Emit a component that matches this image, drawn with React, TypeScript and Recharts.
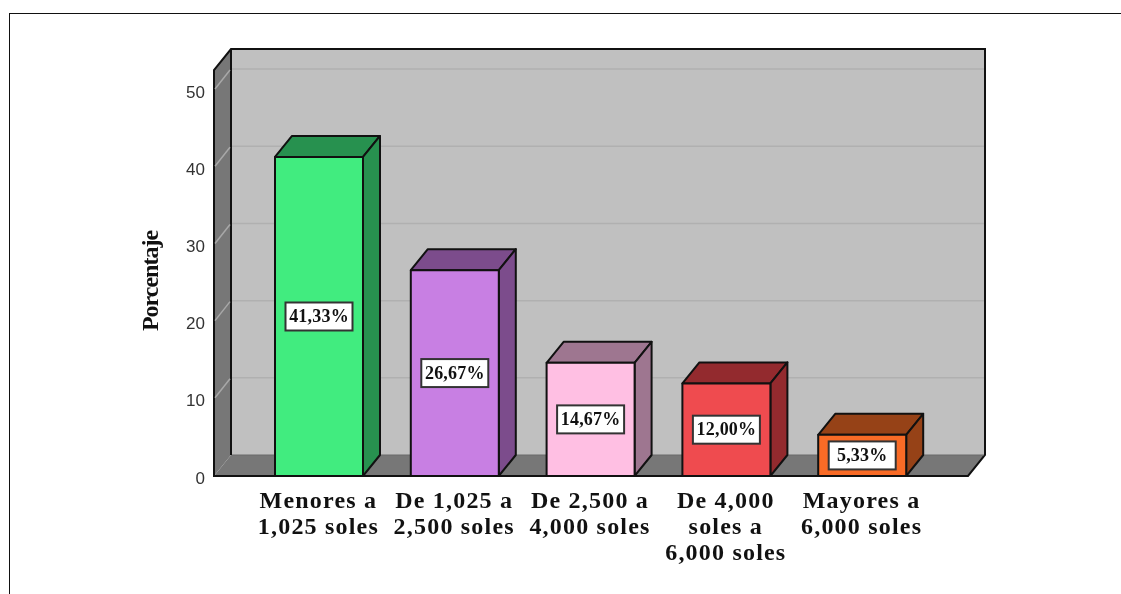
import { BarChart, Bar, XAxis, YAxis, LabelList, ReferenceArea, ReferenceLine } from 'recharts';

const categories = [
  'Menores a\n1,025 soles',
  'De 1,025 a\n2,500 soles',
  'De 2,500 a\n4,000 soles',
  'De 4,000\nsoles a\n6,000 soles',
  'Mayores a\n6,000 soles',
];
const percentages = [41.33, 26.67, 14.67, 12.0, 5.33];
const frontColors = ['#41EC7F', '#C87FE3', '#FFBFE3', '#EF4B4F', '#F96B26'];
const sideColors = ['#27914F', '#7C4C8C', '#9E7690', '#932A2E', '#964217'];
const yTicks = [0, 10, 20, 30, 40, 50];
const gridTicks = [10, 20, 30, 40, 50];

const chartData = categories.map((name, i) => ({ name, value: percentages[i] }));

const DX = 17;
const DY = 21;
const PAD_LEFT = 37;
const PAD_RIGHT = 38;
const SERIF = '"Liberation Serif", serif';

// caja 3D de cada barra
function Box3D(props: any) {
  const { x, y, width, height, index } = props;
  const r = x + width;
  const b = y + height;
  return (
    <g stroke="#111" strokeWidth={2} strokeLinejoin="round">
      <polygon
        points={`${x},${y} ${x + DX},${y - DY} ${r + DX},${y - DY} ${r},${y}`}
        fill={sideColors[index]}
      />
      <polygon
        points={`${r},${y} ${r + DX},${y - DY} ${r + DX},${b - DY} ${r},${b}`}
        fill={sideColors[index]}
      />
      <rect x={x} y={y} width={width} height={height} fill={frontColors[index]} />
    </g>
  );
}

// paredes y piso (el area llega sin el padding del eje X)
function Walls(props: any) {
  const { y, height } = props;
  const x = props.x - PAD_LEFT;
  const r = props.x + props.width + PAD_RIGHT;
  const width = r - x;
  const b = y + height;
  return (
    <g>
      <rect x={x + DX} y={y - DY} width={width} height={height} fill="#C0C0C0" />
      <polygon
        points={`${x},${y} ${x + DX},${y - DY} ${x + DX},${b - DY} ${x},${b}`}
        fill="#777777"
      />
      <polygon
        points={`${x},${b} ${x + DX},${b - DY} ${r + DX},${b - DY} ${r},${b}`}
        fill="#777777"
      />
      <path
        d={`M${x},${b} L${x},${y} L${x + DX},${y - DY} L${r + DX},${y - DY} L${r + DX},${b - DY} L${r},${b} Z M${x + DX},${y - DY} L${x + DX},${b - DY}`}
        fill="none"
        stroke="#111"
        strokeWidth={2}
      />
      <line x1={x + DX + 1} y1={b - DY} x2={r + DX - 1} y2={b - DY} stroke="#6A6A6A" strokeWidth={1} />
    </g>
  );
}

function GridLine3D(props: any) {
  const { x1, y1, x2, y2 } = props;
  const left = Math.min(x1, x2);
  const right = Math.max(x1, x2);
  return (
    <g fill="none" strokeWidth={1.5}>
      <line x1={left + 1} y1={y1 - 1} x2={left + DX - 1} y2={y2 - DY + 1} stroke="#A8A8A8" />
      <line x1={left + DX + 1} y1={y1 - DY} x2={right + DX - 1} y2={y2 - DY} stroke="#B0B0B0" />
    </g>
  );
}

function ValueBadge(props: any) {
  const { x, y, width, height, value } = props;
  const cx = x + width / 2;
  const cy = y + height / 2;
  const w = 67;
  const h = 28;
  return (
    <g>
      <rect x={cx - w / 2} y={cy - h / 2} width={w} height={h} fill="#FFFFFF" stroke="#333" strokeWidth={2} />
      <text
        x={cx}
        y={cy + 5.8}
        textAnchor="middle"
        fontFamily={SERIF}
        fontWeight="bold"
        fontSize={18}
        letterSpacing={0.2}
        fill="#111"
      >
        {Number(value).toFixed(2).replace('.', ',')}%
      </text>
    </g>
  );
}

function CategoryTick(props: any) {
  const { x, y, payload } = props;
  const lines = String(payload.value).split('\n');
  return (
    <text
      x={x - 0.5}
      y={y}
      textAnchor="middle"
      fontFamily={SERIF}
      fontWeight="bold"
      fontSize={24}
      letterSpacing={1.2}
      fill="#111"
    >
      {lines.map((line, i) => (
        <tspan key={line} x={x - 0.5} dy={i === 0 ? 23.5 : 26}>
          {line}
        </tspan>
      ))}
    </text>
  );
}

function ValueTick(props: any) {
  const { x, y, payload } = props;
  return (
    <text
      x={x}
      y={y + 7.5}
      textAnchor="end"
      fontFamily='"Liberation Sans", sans-serif'
      fontSize={17}
      fill="#333"
    >
      {payload.value}
    </text>
  );
}

export default function App() {
  return (
    <div
      style={{
        position: 'absolute',
        left: 0,
        top: 0,
        width: 1121,
        height: 594,
        background: '#fff',
        overflow: 'hidden',
        filter: 'blur(0.45px)',
      }}
    >
      <div
        style={{
          position: 'absolute',
          left: 9,
          top: 13,
          width: 1112,
          height: 581,
          borderTop: '1px solid #111',
          borderLeft: '1px solid #111',
        }}
      />
      <div style={{ position: 'absolute', left: 0, top: 0 }}>
        <BarChart
          width={1121}
          height={594}
          data={chartData}
          margin={{ top: 70, right: 153, bottom: 0, left: 0 }}
        >
          <XAxis
            dataKey="name"
            height={118}
            axisLine={false}
            tickLine={false}
            interval={0}
            padding={{ left: PAD_LEFT, right: PAD_RIGHT }}
            tick={<CategoryTick />}
          />
          <YAxis
            width={214}
            domain={[0, 52.6]}
            ticks={yTicks}
            allowDataOverflow
            axisLine={false}
            tickLine={false}
            tickMargin={3}
            tick={<ValueTick />}
            label={{
              value: 'Porcentaje',
              angle: -90,
              position: 'center',
              dx: 42,
              dy: 8,
              style: { fontFamily: SERIF, fontWeight: 'bold', fontSize: 24, letterSpacing: -1, fill: '#111' },
            }}
          />
          <ReferenceArea y1={0} y2={52.6} ifOverflow="visible" shape={<Walls />} />
          {gridTicks.map((t) => (
            <ReferenceLine key={t} y={t} ifOverflow="visible" zIndex={200} shape={<GridLine3D />} />
          ))}
          <Bar dataKey="value" barSize={88} isAnimationActive={false} shape={<Box3D />}>
            <LabelList dataKey="value" content={<ValueBadge />} />
          </Bar>
        </BarChart>
      </div>
    </div>
  );
}
